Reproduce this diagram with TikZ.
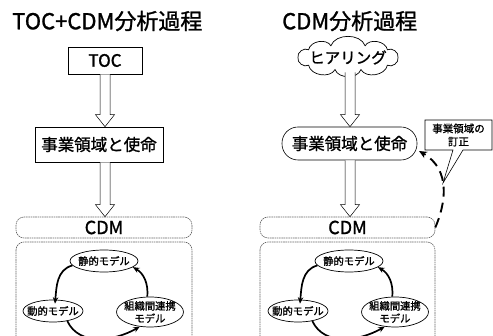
\documentclass[tikz,border=0pt]{standalone}
\usepackage{fontspec}
\setmainfont{Noto Sans CJK JP}[FakeBold=1.2]
\usetikzlibrary{shapes.geometric,arrows.meta,calc}
\newcommand\hollowarr[2]{%
  \path[harrow] let \p1=(#1),\p2=(#2) in
    (\x1-5pt,\y1) -- (\x1-5pt,\y2+12pt) -- (\x1-9.5pt,\y2+12pt) -- (\x1,\y2)
    -- (\x1+9.5pt,\y2+12pt) -- (\x1+5pt,\y2+12pt) -- (\x1+5pt,\y1);}
\begin{document}
\begin{tikzpicture}[x=1pt,y=-1pt,
  title/.style={anchor=west,font=\fontsize{22}{26}\selectfont,inner sep=0pt},
  box/.style={draw=black,line width=0.6pt,fill=white,inner sep=0pt},
  cdmbox/.style={draw=black!60,line width=0.6pt,dash pattern=on 1.6pt off 0.7pt,rounded corners=8pt},
  ell/.style={ellipse,draw,line width=0.7pt,fill=white,inner sep=0pt},
  elltext/.style={font=\fontsize{10.3}{12.5}\selectfont,align=center,inner sep=0pt},
  cyc/.style={line width=1.7pt,-{Stealth[length=6.5pt,width=5.5pt]}},
  harrow/.style={draw,line width=0.5pt,fill=white},
]
\useasboundingbox (0,0) rectangle (493,336);
\clip (0,0) rectangle (493,336);

% ---------- left ----------
\node[title] (tL) at (12,21) {TOC+CDM分析過程};
\node[box,minimum width=74pt,minimum height=27pt,font=\fontsize{17}{19}\selectfont] (toc) at (105,60.5) {TOC};
\node[box,minimum width=128pt,minimum height=35pt,font=\fontsize{16.5}{18}\selectfont] (smL) at (99,144.5) {事業領域と使命};
\node[cdmbox,minimum width=176pt,minimum height=21pt,font=\fontsize{18}{20}\selectfont,inner sep=0pt] (cdmL) at (104,227.5) {CDM};
\draw[cdmbox] (16,242) rectangle (192,352);
\coordinate (aL1) at (toc.south);
\coordinate (aL2) at (toc.south |- smL.south);
\hollowarr{aL1}{aL1 |- smL.north}
\hollowarr{aL2}{aL2 |- cdmL.north}

\node[ell,minimum width=68pt,minimum height=22pt,label={[elltext]center:静的モデル}] (sL) at (104,261) {};
\node[ell,minimum width=60pt,minimum height=22pt,label={[elltext]center:動的モデル}] (dL) at (53,311) {};
\node[ell,minimum width=67pt,minimum height=30pt,label={[elltext]center:組織間連携\\モデル}] (oL) at (150,312) {};
\draw[cyc] (sL.188) to[out=195,in=85] ([yshift=-4pt]dL.80);
\draw[cyc] (dL.-35) to[out=-65,in=-150] (oL.-125);
\draw[cyc] (oL.100) to[out=85,in=-30] (sL.-12);

% ---------- right ----------
\node[title] (tR) at (282,21) {CDM分析過程};
\coordinate (cc) at (348,57.5);
\draw[line width=0.7pt,fill=white]
  ($(cc)+(0:50 and 12.5)$)
  to[bend left=70] ($(cc)+(38:50 and 12.5)$)
  to[bend left=70] ($(cc)+(75:50 and 12.5)$)
  to[bend left=70] ($(cc)+(105:50 and 12.5)$)
  to[bend left=70] ($(cc)+(142:50 and 12.5)$)
  to[bend left=70] ($(cc)+(180:50 and 12.5)$)
  to[bend left=70] ($(cc)+(218:50 and 12.5)$)
  to[bend left=70] ($(cc)+(250:50 and 12.5)$)
  to[bend left=70] ($(cc)+(290:50 and 12.5)$)
  to[bend left=70] ($(cc)+(322:50 and 12.5)$)
  to[bend left=70] cycle;
\node[font=\fontsize{15.5}{17}\selectfont,inner sep=0pt] (hear) at (cc) {ヒアリング};
\node[box,rounded corners=16pt,minimum width=135pt,minimum height=33pt,font=\fontsize{16.5}{18}\selectfont] (smR) at (349.5,143.5) {事業領域と使命};
\node[cdmbox,minimum width=175pt,minimum height=21pt,font=\fontsize{18}{20}\selectfont,inner sep=0pt] (cdmR) at (347.5,227.5) {CDM};
\draw[cdmbox] (260,242) rectangle (435,352);
\coordinate (aR1) at ($(cc)+(2,15)$);
\coordinate (aR2) at (aR1 |- smR.south);
\hollowarr{aR1}{aR1 |- smR.north}
\hollowarr{aR2}{aR2 |- cdmR.north}

\node[ell,minimum width=68pt,minimum height=22pt,label={[elltext]center:静的モデル}] (sR) at (349,261) {};
\node[ell,minimum width=60pt,minimum height=22pt,label={[elltext]center:動的モデル}] (dR) at (298,311) {};
\node[ell,minimum width=67pt,minimum height=30pt,label={[elltext]center:組織間連携\\モデル}] (oR) at (395,312) {};
\draw[cyc] (sR.188) to[out=195,in=85] ([yshift=-4pt]dR.80);
\draw[cyc] (dR.-35) to[out=-65,in=-150] (oR.-125);
\draw[cyc] (oR.100) to[out=85,in=-30] (sR.-12);

% callout
\draw[line width=0.6pt,fill=white] (425,120) -- (492,120) -- (492,150) -- (463,150)
  -- (443,183) -- (453,150) -- (425,150) -- cycle;
\node[font=\fontsize{10.5}{13}\selectfont,align=center,inner sep=0pt] (call) at (458.5,135) {事業領域の\\訂正};

% dashed return
\coordinate (ret) at (419,151);
\draw[line width=1.9pt,dash pattern=on 10pt off 6pt,-{Stealth[length=8pt,width=7pt]}]
  (cdmR.east) .. controls (445,205) and (452,170) .. (ret);
\end{tikzpicture}
\end{document}
